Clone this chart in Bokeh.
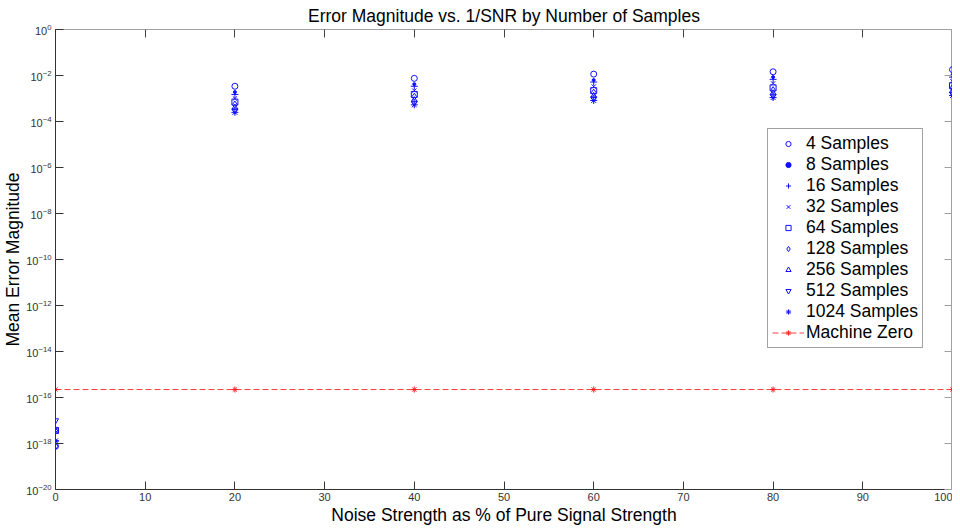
from bokeh.plotting import figure
from bokeh.models import (Range1d, FixedTicker, LogAxis, LinearAxis, Legend,
                          LegendItem, LogTickFormatter, CustomJSTickFormatter)
from bokeh.embed import file_html
from bokeh.resources import INLINE

# ---------------- data ----------------
noise_pct = [0, 20, 40, 60, 80, 100]

series_labels = ["4 Samples", "8 Samples", "16 Samples", "32 Samples", "64 Samples",
                 "128 Samples", "256 Samples", "512 Samples", "1024 Samples"]

err_4 = [7.6e-19, 3.4e-3, 7.5e-3, 1.15e-2, 1.45e-2, 1.8e-2]
err_8 = [1.3e-18, 1.9e-3, 4.2e-3, 6.3e-3, 8.5e-3, 1.05e-2]
err_16 = [1.3e-18, 1.5e-3, 3.4e-3, 5.2e-3, 6.8e-3, 8.5e-3]
err_32 = [3.7e-18, 1.0e-3, 2.2e-3, 3.3e-3, 4.5e-3, 5.6e-3]
err_64 = [3.7e-18, 7.0e-4, 1.5e-3, 2.2e-3, 2.9e-3, 3.6e-3]
err_128 = [7.6e-19, 5.5e-4, 1.2e-3, 1.8e-3, 2.3e-3, 2.9e-3]
err_256 = [3.7e-18, 4.0e-4, 8.5e-4, 1.3e-3, 1.7e-3, 2.1e-3]
err_512 = [1.0e-17, 3.0e-4, 6.5e-4, 1.0e-3, 1.3e-3, 1.6e-3]
err_1024 = [1.3e-18, 2.5e-4, 5.3e-4, 8.2e-4, 1.1e-3, 1.35e-3]

machine_zero = [2.22e-16, 2.22e-16, 2.22e-16, 2.22e-16, 2.22e-16, 2.22e-16]

x_ticks = [0, 10, 20, 30, 40, 50, 60, 70, 80, 90, 100]
y_tick_exponents = [-20, -18, -16, -14, -12, -10, -8, -6, -4, -2, 0]

series_values = [err_4, err_8, err_16, err_32, err_64, err_128, err_256, err_512, err_1024]
series_markers = ["circle", "circle", "cross", "x", "square", "diamond",
                  "triangle", "inverted_triangle", "asterisk"]
series_sizes = [6, 3, 7, 6, 6, 7, 6, 6, 7]
series_filled = [False, True, False, False, False, False, False, False, False]

# ---------------- figure ----------------
FONT = "Liberation Sans"
BLUE = "#1010ff"
BIG = "17.5px"

y_ticks = [10.0 ** e for e in y_tick_exponents]

p = figure(width=952, height=527, x_range=Range1d(0, 100), y_range=Range1d(1e-20, 1),
           y_axis_type="log", output_backend="svg", toolbar_location=None,
           title="Error Magnitude vs. 1/SNR by Number of Samples",
           min_border_left=49, min_border_right=0, min_border_top=28,
           min_border_bottom=37)
p.background_fill_color = "white"
p.border_fill_color = "white"
p.outline_line_color = "#a0a0a0"
p.xgrid.grid_line_color = None
p.ygrid.grid_line_color = None

p.title.text_font = FONT
p.title.text_font_size = BIG
p.title.text_font_style = "normal"
p.title.text_color = "black"
p.title.align = "center"
p.title.standoff = 7

# bottom axis
xa = p.xaxis[0]
xa.ticker = FixedTicker(ticks=x_ticks)
xa.axis_label = "Noise Strength as % of Pure Signal Strength"
xa.axis_label_text_font = FONT
xa.axis_label_text_font_size = BIG
xa.axis_label_text_font_style = "normal"
xa.axis_label_text_color = "black"
xa.axis_label_standoff = 1
xa.major_label_text_font = FONT
xa.major_label_text_font_size = "11px"
xa.major_label_text_color = "#333333"
xa.major_label_standoff = 3
xa.major_tick_in = 8
xa.major_tick_out = 0
xa.minor_tick_line_color = None
xa.axis_line_color = "#333333"
xa.major_tick_line_color = "#333333"

# left axis
ya = p.yaxis[0]
ya.ticker = FixedTicker(ticks=y_ticks)
ya.formatter = LogTickFormatter()
ya.axis_label = "Mean Error Magnitude"
ya.axis_label_text_font = FONT
ya.axis_label_text_font_size = BIG
ya.axis_label_text_font_style = "normal"
ya.axis_label_text_color = "black"
ya.axis_label_standoff = 0
ya.major_label_text_font = FONT
ya.major_label_text_font_size = "11px"
ya.major_label_text_color = "#333333"
ya.major_label_standoff = 4
ya.major_tick_in = 8
ya.major_tick_out = 0
ya.minor_tick_line_color = None
ya.axis_line_color = "#333333"
ya.major_tick_line_color = "#333333"

# mirrored ticks on top and right (no labels)
top_axis = LinearAxis(ticker=FixedTicker(ticks=x_ticks),
                      formatter=CustomJSTickFormatter(code="return ''"),
                      major_label_standoff=0, axis_label_standoff=0,
                      major_tick_in=8, major_tick_out=0,
                      minor_tick_line_color=None, axis_line_color="#a0a0a0",
                      major_tick_line_color="#444444")
p.add_layout(top_axis, "above")
right_axis = LogAxis(ticker=FixedTicker(ticks=y_ticks),
                     formatter=CustomJSTickFormatter(code="return ''"),
                     major_label_standoff=0, axis_label_standoff=0,
                     major_tick_in=8, major_tick_out=0,
                     minor_tick_line_color=None, axis_line_color="#a0a0a0",
                     major_tick_line_color="#a0a0a0")
p.add_layout(right_axis, "right")

# ---------------- glyphs ----------------
items = []
for label, vals, mk, sz, filled in zip(series_labels, series_values, series_markers,
                                       series_sizes, series_filled):
    r = p.scatter(x=noise_pct, y=vals, marker=mk, size=sz, line_color=BLUE,
                  line_width=1, fill_color=BLUE if filled else None)
    items.append(LegendItem(label=label, renderers=[r]))

mz_line = p.line(x=noise_pct, y=machine_zero, line_color="#ff4040", line_width=1,
                 line_dash="6 3")
mz_pts = p.scatter(x=noise_pct, y=machine_zero, marker="asterisk", size=6,
                   line_color="#ff2020", line_width=1)
items.append(LegendItem(label="Machine Zero", renderers=[mz_line, mz_pts]))

legend = Legend(items=items, location=(712, 141))
legend.label_text_font = FONT
legend.label_text_font_size = BIG
legend.label_text_color = "black"
legend.border_line_color = "#444444"
legend.border_line_width = 1
legend.background_fill_color = "white"
legend.background_fill_alpha = 1
legend.padding = 4
legend.spacing = 0
legend.glyph_width = 32
legend.glyph_height = 13
legend.label_height = 21
legend.label_standoff = 2
legend.margin = 0
p.add_layout(legend)

open("out.html", "w").write(file_html(p, INLINE))
